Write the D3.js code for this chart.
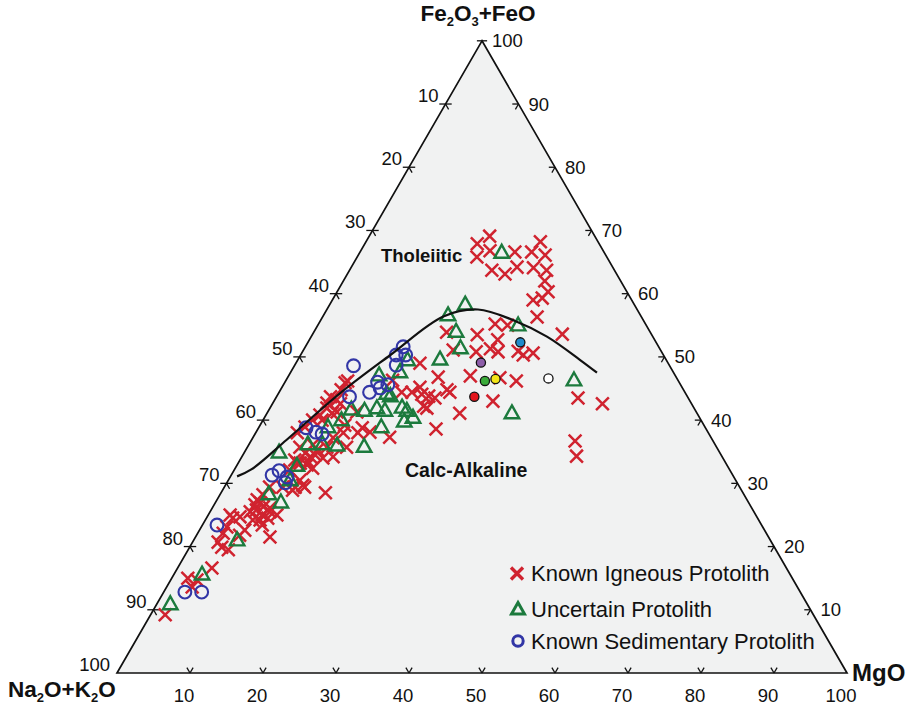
<!DOCTYPE html>
<html>
<head>
<meta charset="utf-8">
<script src="https://cdn.jsdelivr.net/npm/d3@7"></script>
<style>
  body { margin: 0; background: #ffffff; }
  text { font-family: "Liberation Sans", Arial, Helvetica, sans-serif; fill: #111; }
</style>
</head>
<body>
<svg id="chart" width="913" height="706"></svg>
<script>
// AFM diagram: each sample is [FeO+Fe2O3, MgO] in % of A+F+M; alkalis = 100 - both.
const tickValues = [10, 20, 30, 40, 50, 60, 70, 80, 90, 100];
const apexTitles = { top: ["Fe", "2", "O", "3", "+FeO"], left: ["Na", "2", "O+K", "2", "O"], right: ["MgO"] };
const fieldNames = ["Tholeiitic", "Calc-Alkaline"];
const legendNames = ["Known Igneous Protolith", "Uncertain Protolith", "Known Sedimentary Protolith"];

// Tholeiitic / calc-alkaline dividing line
const boundary = [[31.1,0.9],[32.2,2.3],[36.9,4.8],[44.2,8.4],[50.3,12.3],[56.4,16.5],
  [57.5,20.7],[55.8,26.4],[53.2,32.3],[49.5,38.7],[47.5,42.0]];

const igneous = [
  [67.9,15.4],[69.1,16.5],[66.8,17.7],[65.8,16.4],[63.7,19.5],[63.1,21.6],[66.6,21.2],[64.2,22.7],
  [66.6,23.5],[68.2,23.9],[66.1,25.6],[64.1,25.0],[63.7,27.0],[62.0,27.6],[59.0,27.5],[59.3,28.6],
  [60.3,28.9],[56.3,29.4],[53.6,34.2],
  [55.2,24.2],[55.0,26.0],[53.5,22.6],[53.9,18.2],[52.7,25.8],[51.3,25.5],[50.8,26.8],[50.8,23.8],
  [51.1,20.5],[50.9,29.5],[50.6,31.7],[50.3,30.5],[49.0,17.0],[46.8,20.6],[47.0,24.9],[46.7,29.1],
  [46.2,31.6],[45.2,18.9],[44.8,22.8],[44.4,23.4],[43.8,20.8],[43.5,21.8],[42.2,20.9],[43.0,30.0],
  [41.1,26.4],[43.5,41.4],[42.6,45.2],[36.7,44.4],[34.3,45.8],
  [44.4,18.2],[44.1,19.7],[41.9,21.5],[38.6,24.4],[44.4,16.8],[46.3,14.6],[44.8,8.3],[45.9,8.3],
  [46.2,8.5],[43.2,8.5],[42.7,7.4],[42.6,9.3],[41.1,8.9],[40.0,8.1],[38.0,5.7],[38.8,14.2],
  [38.0,14.0],[38.1,15.6],[39.2,11.6],[37.2,11.0],[35.7,13.6],[35.7,7.2],[35.3,9.8],[34.2,9.4],
  [34.0,11.2],[34.2,12.5],[32.9,9.6],[32.4,10.6],[33.2,8.1],[37.3,18.7],[43.7,7.4],[41.9,7.8],
  [41.3,9.5],[40.8,7.4],[40.0,6.8],[38.9,6.3],[41.3,12.2],[38.0,12.0],[35.7,10.9],[36.1,8.8],
  [34.8,8.4],[34.5,9.9],[33.7,7.5],[33.2,8.5],[33.4,9.5],[32.1,7.6],[29.4,8.0],[29.4,9.7],
  [29.7,10.6],[28.5,14.3],[28.2,5.9],[27.4,5.5],[26.3,6.9],[25.5,5.5],[25.5,8.2],[24.2,7.5],
  [24.7,4.5],
  [29.4,6.2],[26.9,6.2],[26.6,5.6],[26.1,7.9],[25.0,7.4],[24.2,6.5],[24.5,8.4],[23.4,8.2],
  [25.0,9.4],[21.5,10.2],[24.5,3.6],[23.1,3.5],[22.1,3.5],[22.6,6.2],[21.8,5.9],[19.9,4.4],
  [19.5,5.5],[28.9,9.6],[30.5,9.8],[29.4,11.0],[25.0,3.0],[20.7,3.5],[16.6,4.7],[15.0,2.2],
  [14.7,3.6],[13.6,3.5],[9.2,2.0],[25.8,6.2]
];

const uncertain = [
  [66.4,19.5],[58.2,18.6],[56.5,17.1],[53.9,19.5],[51.3,21.4],[54.9,27.5],[49.5,19.5],[46.2,39.5],
  [41.0,33.6],[49.4,15.1],[47.5,15.0],[47.0,12.4],[44.1,14.9],[43.7,15.6],[41.6,11.3],[41.4,13.2],
  [41.8,14.7],[41.4,16.0],[41.9,18.1],[41.4,19.0],[40.3,20.4],[39.7,19.5],[39.9,10.8],[38.8,16.8],
  [38.8,9.5],[36.1,8.1],[36.1,10.1],[35.9,12.2],[35.7,16.0],[34.8,4.8],[32.7,8.3],[30.4,8.5],
  [28.2,6.7],[26.9,9.0],[20.9,6.0],[15.5,3.9],[10.8,1.9]
];

const sedimentary = [
  [51.6,13.4],[50.3,13.1],[50.3,14.4],[48.7,13.9],[48.6,8.1],[46.0,12.7],[45.6,14.3],[44.4,12.4],
  [45.1,13.5],[43.7,10.0],[38.8,6.5],[38.1,8.2],[37.8,9.2],[31.3,5.6],[32.0,6.2],[31.0,7.8],
  [30.1,8.0],[23.4,2.0],[12.8,2.9],[12.8,5.2]
];

// Individually coloured reference analyses
const referenceSamples = [[49.1,25.3],[46.2,27.3],[46.5,28.6],[43.7,27.1],[52.3,29.1],[46.6,35.8]];
const referenceColors = ["#8d5ea9", "#3aab3a", "#f4e418", "#e3161c", "#1f8bcc", "#ffffff"];

const svg = d3.select("#chart");

// Base axis runs alkalis(0% MgO) -> MgO(100%); the apex sits at 100% FeO+Fe2O3.
const xs = d3.scaleLinear().domain([0, 100]).range([117, 847]);
const ys = d3.scaleLinear().domain([0, 100]).range([673, 673 - 730 * Math.sqrt(3) / 2]);
const pt = (f, m) => [xs(m + f / 2), ys(f)];

const red = "#d0232f", green = "#1c7a3d", blue = "#3236a6";

// Triangle
svg.append("path")
  .attr("d", d3.line()([pt(100, 0), pt(0, 0), pt(0, 100)]) + "Z")
  .attr("fill", "#f1f2f2").attr("stroke", "#111").attr("stroke-width", 1.7)
  .attr("stroke-linejoin", "miter");

// Ticks: short strokes along the two iso-lines entering the triangle
const d = 0.85;
const tickG = svg.append("g").attr("stroke", "#111").attr("stroke-width", 1.3).attr("fill", "none");
const seg = (a, b) => tickG.append("path").attr("d", d3.line()([a, b]));
tickValues.filter(v => v < 100).forEach(v => {
  // MgO on the base
  const b0 = pt(0, v);
  seg(b0, pt(d, v)); seg(b0, pt(d, v - d));
  // alkalis on the left edge
  const l0 = pt(100 - v, 0);
  seg(l0, pt(100 - v, d)); seg(l0, pt(100 - v - d, d)); seg(l0, pt(100 - v, -d));
  // FeO+Fe2O3 on the right edge
  const r0 = pt(v, 100 - v);
  seg(r0, pt(v, 100 - v - d)); seg(r0, pt(v - d, 100 - v));
});
seg(pt(100, -0.7), pt(100, 0.7));

// Tick labels
const lab = svg.append("g").attr("font-size", 18.5);
tickValues.forEach(v => {
  const b = pt(0, v);
  lab.append("text").attr("x", b[0] - 6).attr("y", 702).attr("text-anchor", "middle").text(v);
  const l = pt(100 - v, 0);
  lab.append("text").attr("x", l[0] - 7).attr("y", l[1] - 2).attr("text-anchor", "end").text(v);
  const r = pt(v, 100 - v);
  lab.append("text").attr("x", r[0] + 10).attr("y", r[1] + 6.5).attr("text-anchor", "start").text(v);
});

// Apex titles with subscripts
function title(parts, x, y, anchor, size) {
  const t = svg.append("text").attr("x", x).attr("y", y).attr("text-anchor", anchor)
    .attr("font-weight", "bold").attr("font-size", size);
  parts.forEach((p, i) => {
    const sub = /^\d$/.test(p);
    t.append("tspan").attr("dy", sub ? 5 : (i > 0 ? -5 : 0))
      .attr("font-size", sub ? 13 : size).text(p);
  });
}
title(apexTitles.top, 478, 21, "middle", 22.5);
title(apexTitles.left, 8, 697, "start", 22.5);
title(apexTitles.right, 852, 681, "start", 24);

// Field names
svg.append("text").attr("x", 381).attr("y", 262).attr("font-weight", "bold")
  .attr("font-size", 18.5).attr("fill", "#2a2a2a").text(fieldNames[0]);
svg.append("text").attr("x", 405).attr("y", 477).attr("font-weight", "bold")
  .attr("font-size", 19.5).attr("fill", "#2a2a2a").text(fieldNames[1]);

// Marker shapes
const crossPath = s => `M${-s},${-s}L${s},${s}M${-s},${s}L${s},${-s}`;
const triPath = w => `M0,${-w * 0.58}L${w / 2},${w * 0.31}L${-w / 2},${w * 0.31}Z`;

// Samples
svg.append("g").selectAll("path").data(igneous).join("path")
  .attr("transform", p => `translate(${pt(p[0], p[1])})`)
  .attr("d", crossPath(6.4)).attr("stroke", red).attr("stroke-width", 2.5).attr("fill", "none");

svg.append("g").selectAll("path").data(uncertain).join("path")
  .attr("transform", p => `translate(${pt(p[0], p[1])})`)
  .attr("d", triPath(14.5)).attr("stroke", green).attr("stroke-width", 2.4).attr("fill", "none")
  .attr("stroke-linejoin", "miter");

svg.append("g").selectAll("circle").data(sedimentary).join("circle")
  .attr("cx", p => pt(p[0], p[1])[0]).attr("cy", p => pt(p[0], p[1])[1])
  .attr("r", 6.4).attr("stroke", blue).attr("stroke-width", 2.1).attr("fill", "none");

// Boundary line
svg.append("path")
  .attr("d", d3.line().curve(d3.curveCatmullRom.alpha(0.5))(boundary.map(p => pt(p[0], p[1]))))
  .attr("fill", "none").attr("stroke", "#111").attr("stroke-width", 2.2);

svg.append("g").selectAll("circle").data(referenceSamples).join("circle")
  .attr("cx", p => pt(p[0], p[1])[0]).attr("cy", p => pt(p[0], p[1])[1])
  .attr("r", 4.6).attr("fill", (p, i) => referenceColors[i])
  .attr("stroke", "#111").attr("stroke-width", 1.3);

// Legend
const lg = svg.append("g");
const rows = [573.5, 609, 641];
lg.append("path").attr("transform", `translate(517,${rows[0]})`).attr("d", crossPath(6))
  .attr("stroke", red).attr("stroke-width", 3.4).attr("fill", "none");
lg.append("path").attr("transform", `translate(518,${rows[1] + 1})`).attr("d", triPath(13))
  .attr("stroke", green).attr("stroke-width", 3).attr("fill", "none");
lg.append("circle").attr("cx", 518).attr("cy", rows[2]).attr("r", 5.2)
  .attr("stroke", blue).attr("stroke-width", 3).attr("fill", "none");
legendNames.forEach((n, i) => {
  lg.append("text").attr("x", 531).attr("y", rows[i] + 7.5).attr("font-size", 22).text(n);
});
</script>
</body>
</html>
